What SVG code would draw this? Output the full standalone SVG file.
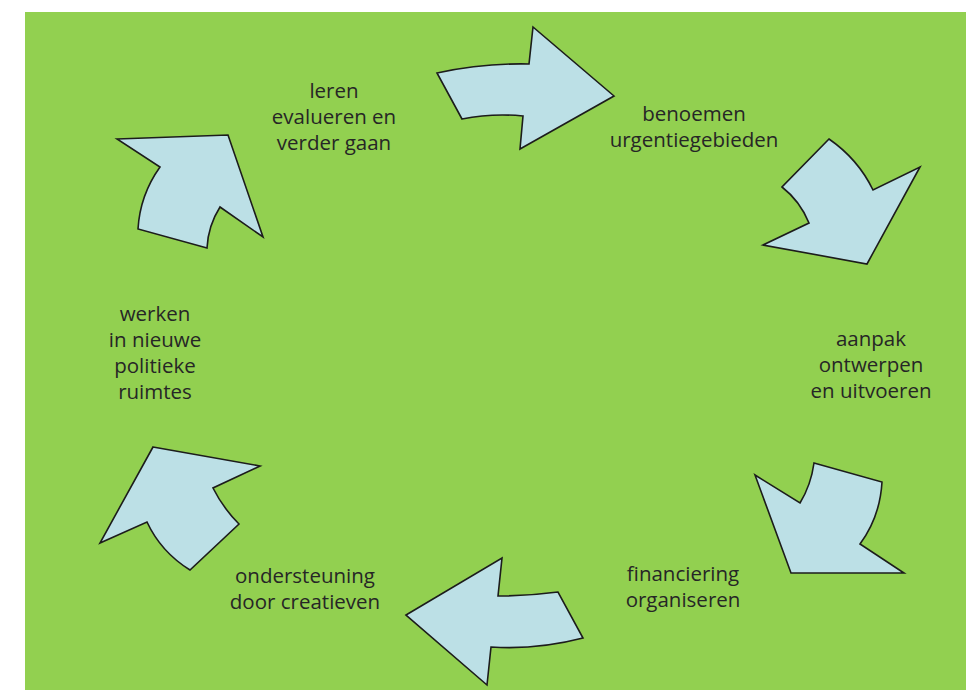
<svg xmlns="http://www.w3.org/2000/svg" width="966" height="690" viewBox="0 0 966 690">
<style>
.arrow{fill:#bce0e6;stroke:#1c1c1c;stroke-width:1.6;stroke-linejoin:miter}
.lbl{font-family:"Open Sans","Noto Sans",sans-serif;font-size:20.5px;fill:#262626;text-anchor:middle}
</style>
<rect x="0" y="0" width="966" height="690" fill="#ffffff"/>
<rect x="25" y="12" width="941" height="678" fill="#92d050"/>
<g id="connectors">
<path id="arrow1" class="arrow" d="M437,73 Q483,63 529,64 L533,27 L614,96 L520,149 L523,116 Q492,113 462,119 Z"/>
<path id="arrow2" class="arrow" d="M829,139 Q858,159 873,190 L920,167 L867,264 L763,245 L809,223 Q800,201 782,187 Z"/>
<path id="arrow3" class="arrow" d="M755,475 L800,503 Q811,485 814,463 L882,482 Q880,517 860,544 L904,573 L791,573 Z"/>
<path id="arrow4" class="arrow" d="M406,615 L502,558 L498,596 Q528,596 558,592 L583,638 Q537,650 491,647 L487,685 Z"/>
<path id="arrow5" class="arrow" d="M153,447 L260,466 L213,488 Q223,508 239,524 L190,570 Q161,552 147,522 L100,543 Z"/>
<path id="arrow6" class="arrow" d="M117,139 L228,135 L263,237 L220,207 Q208,226 207,248 L138,229 Q140,195 160,167 Z"/>
</g>
<g id="node-leren">
<text class="lbl" x="334" y="98">leren</text>
<text class="lbl" x="334" y="124">evalueren en</text>
<text class="lbl" x="334" y="150">verder gaan</text>
</g>
<g id="node-benoemen">
<text class="lbl" x="694" y="121">benoemen</text>
<text class="lbl" x="694" y="147">urgentiegebieden</text>
</g>
<g id="node-aanpak">
<text class="lbl" x="871" y="346">aanpak</text>
<text class="lbl" x="871" y="372">ontwerpen</text>
<text class="lbl" x="871" y="398">en uitvoeren</text>
</g>
<g id="node-financiering">
<text class="lbl" x="683" y="581">financiering</text>
<text class="lbl" x="683" y="607">organiseren</text>
</g>
<g id="node-ondersteuning">
<text class="lbl" x="305" y="583">ondersteuning</text>
<text class="lbl" x="305" y="609">door creatieven</text>
</g>
<g id="node-werken">
<text class="lbl" x="155" y="321">werken</text>
<text class="lbl" x="155" y="347">in nieuwe</text>
<text class="lbl" x="155" y="373">politieke</text>
<text class="lbl" x="155" y="399">ruimtes</text>
</g>
</svg>
